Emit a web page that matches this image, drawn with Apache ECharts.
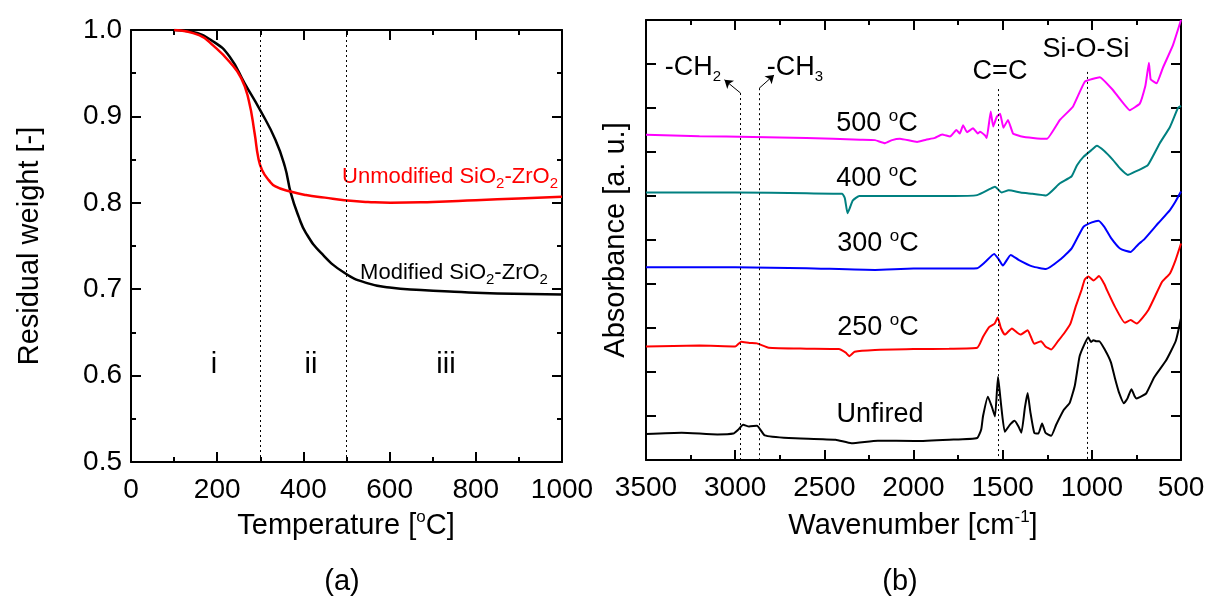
<!DOCTYPE html>
<html>
<head>
<meta charset="utf-8">
<script src="https://cdn.jsdelivr.net/npm/echarts@6/dist/echarts.min.js"></script>
<style>
	html, body { margin: 0; padding: 0; background: #fff; }
	#chart { width: 1214px; height: 605px; }
</style>
</head>
<body>
<div id="chart"></div>
<script>
// (a) TGA
var tempMod = [100, 140, 193, 229, 264, 300, 335, 357, 371, 389, 406, 441, 495, 548, 600, 673, 750, 850, 1000];
var weightMod = [1.0, 0.998, 0.986, 0.969, 0.938, 0.907, 0.873, 0.842, 0.811, 0.784, 0.765, 0.742, 0.719, 0.707, 0.702, 0.699, 0.697, 0.695, 0.694];
var tempUnmod = [100, 158, 193, 229, 256, 273, 287, 295, 304, 320, 335, 370, 406, 450, 495, 550, 602, 700, 800, 900, 1000];
var weightUnmod = [1.0, 0.994, 0.981, 0.963, 0.944, 0.919, 0.880, 0.853, 0.838, 0.826, 0.819, 0.813, 0.809, 0.806, 0.803, 0.801, 0.800, 0.801, 0.803, 0.805, 0.807];
var regionLines = [300, 500];

// (b) FTIR
var unfiredWn = [3500, 3300, 3100, 3010, 2985, 2955, 2922, 2878, 2834, 2700, 2437, 2348, 2200, 1995, 1800, 1643, 1620, 1610, 1583, 1560, 1543, 1526, 1510, 1488, 1460, 1433, 1410, 1395, 1375, 1360, 1345, 1323, 1300, 1279, 1260, 1228, 1200, 1157, 1124, 1095, 1069, 1045, 1020, 1005, 991, 975, 959, 926, 893, 870, 849, 820, 800, 778, 760, 749, 720, 694, 650, 584, 529, 500];
var unfiredAbs = [0.59, 0.62, 0.58, 0.60, 0.68, 0.80, 0.76, 0.78, 0.56, 0.50, 0.46, 0.38, 0.44, 0.43, 0.46, 0.50, 0.70, 1.00, 1.44, 1.20, 0.99, 1.89, 1.30, 0.64, 0.80, 0.89, 0.75, 0.62, 1.20, 1.52, 1.10, 0.62, 0.60, 0.83, 0.62, 0.55, 0.80, 1.14, 1.30, 1.70, 2.35, 2.60, 2.79, 2.68, 2.72, 2.70, 2.70, 2.50, 2.22, 1.85, 1.55, 1.29, 1.40, 1.61, 1.45, 1.40, 1.45, 1.52, 1.88, 2.26, 2.71, 3.22];
var c250Wn = [3500, 3200, 3000, 2966, 2920, 2878, 2812, 2600, 2420, 2380, 2360, 2330, 2216, 2000, 1800, 1643, 1610, 1576, 1545, 1528, 1510, 1488, 1448, 1420, 1400, 1360, 1323, 1285, 1260, 1228, 1190, 1157, 1120, 1091, 1058, 1040, 1020, 990, 960, 930, 915, 870, 815, 782, 749, 683, 606, 562, 530, 500];
var c250Abs = [2.58, 2.60, 2.58, 2.69, 2.66, 2.65, 2.55, 2.53, 2.52, 2.44, 2.36, 2.46, 2.50, 2.52, 2.53, 2.55, 2.80, 3.02, 3.10, 3.24, 3.00, 2.85, 2.99, 2.90, 2.85, 2.95, 2.64, 2.70, 2.58, 2.51, 2.70, 2.87, 3.10, 3.48, 3.86, 4.10, 4.17, 4.08, 4.18, 4.00, 3.86, 3.48, 3.12, 3.18, 3.10, 3.41, 4.05, 4.24, 4.55, 4.92];
var c300Wn = [3500, 3000, 2600, 2216, 2000, 1800, 1643, 1598, 1548, 1520, 1499, 1455, 1411, 1334, 1257, 1179, 1113, 1047, 1000, 963, 930, 893, 840, 782, 740, 705, 628, 562, 530, 500];
var c300Abs = [4.38, 4.38, 4.36, 4.32, 4.35, 4.35, 4.36, 4.50, 4.68, 4.55, 4.42, 4.66, 4.55, 4.40, 4.34, 4.55, 4.81, 5.30, 5.40, 5.44, 5.30, 5.05, 4.80, 4.73, 4.90, 5.02, 5.38, 5.68, 5.88, 6.10];
var c400Wn = [3500, 3000, 2600, 2400, 2385, 2370, 2355, 2340, 2304, 2000, 1800, 1643, 1571, 1543, 1505, 1466, 1400, 1334, 1274, 1257, 1179, 1113, 1083, 1047, 1000, 972, 930, 882, 840, 798, 760, 731, 686, 619, 562, 517, 500];
var c400Abs = [6.08, 6.08, 6.06, 6.05, 5.95, 5.61, 5.75, 5.90, 6.00, 6.00, 6.00, 6.02, 6.16, 6.21, 6.08, 6.13, 6.08, 6.05, 6.02, 6.01, 6.29, 6.45, 6.70, 6.89, 7.05, 7.14, 7.02, 6.82, 6.62, 6.48, 6.55, 6.60, 6.70, 7.20, 7.57, 8.00, 8.05];
var c500Wn = [3500, 3200, 2900, 2600, 2300, 2216, 2160, 2120, 2076, 1980, 1930, 1880, 1840, 1795, 1760, 1740, 1722, 1700, 1666, 1640, 1627, 1600, 1589, 1567, 1553, 1533, 1514, 1496, 1470, 1442, 1400, 1330, 1251, 1179, 1106, 1039, 955, 882, 787, 731, 700, 692, 680, 670, 636, 601, 545, 500];
var c500Abs = [7.39, 7.36, 7.34, 7.32, 7.28, 7.27, 7.20, 7.27, 7.30, 7.23, 7.28, 7.32, 7.40, 7.35, 7.50, 7.42, 7.61, 7.45, 7.54, 7.42, 7.46, 7.38, 7.32, 7.92, 7.58, 7.80, 7.87, 7.55, 7.73, 7.42, 7.36, 7.32, 7.30, 7.73, 8.03, 8.60, 8.70, 8.41, 7.95, 8.10, 8.50, 8.71, 9.03, 8.65, 8.56, 8.92, 9.43, 10.0];
// band guides: [wavenumber, top of dotted line]
var bandLines = [[2970, 8.34], [2865, 8.45], [1525, 8.43], [1025, 8.82]];
// arrows from the CH guides to their labels: [from wn, from abs, to wn, to abs]
var bandArrows = [[2970, 8.34, 3060, 8.64], [2865, 8.45, 2782, 8.75]];

var FONT = 'Liberation Sans, Arial, sans-serif';

function pairs(xs, ys) {
	var out = [];
	for (var i = 0; i < xs.length; i++) out.push([xs[i], ys[i]]);
	return out;
}

function boxAxis(opt) {
	return {
		gridIndex: opt.grid,
		type: 'value',
		position: opt.position,
		min: opt.min,
		max: opt.max,
		interval: opt.interval,
		inverse: !!opt.inverse,
		axisLine: { show: true, onZero: false, lineStyle: { color: '#000', width: 2 } },
		axisTick: { show: true, inside: true, length: 10, lineStyle: { color: '#000', width: 2 } },
		minorTick: { show: !!opt.minor, splitNumber: 2, length: 5, lineStyle: { color: '#000', width: 2 } },
		splitLine: { show: false },
		axisLabel: {
			show: !!opt.labels,
			fontSize: 28,
			fontFamily: FONT,
			color: '#000',
			margin: opt.margin || 8,
			formatter: opt.formatter || function(v) { return String(v); }
		}
	};
}

var chart = echarts.init(document.getElementById('chart'));

var sub = { fontSize: 15, fontFamily: FONT, verticalAlign: 'bottom', lineHeight: 15 };
var sup = { fontSize: 17, fontFamily: FONT, verticalAlign: 'top', lineHeight: 17 };

function txt(x, y, text, size, color, rot) {
	return {
		type: 'text',
		x: x,
		y: y,
		rotation: rot || 0,
		style: {
			text: text,
			fontSize: size,
			fontFamily: FONT,
			fill: color || '#000',
			align: 'center',
			verticalAlign: 'middle',
			rich: {
				n: { fontSize: size, fontFamily: FONT, lineHeight: size + 6, fill: color || '#000' },
				sub: sub,
				sup: sup
			}
		}
	};
}

var option = {
	animation: false,
	backgroundColor: '#fff',
	grid: [
		{ left: 131, top: 30, width: 431, height: 432 },
		{ left: 646, top: 20, width: 535, height: 440 }
	],
	xAxis: [
		boxAxis({ grid: 0, position: 'bottom', min: 0, max: 1000, interval: 200, minor: true, labels: true, margin: 14 }),
		boxAxis({ grid: 0, position: 'top', min: 0, max: 1000, interval: 200, minor: true }),
		boxAxis({ grid: 1, position: 'bottom', min: 500, max: 3500, interval: 500, inverse: true, minor: true, labels: true, margin: 14 }),
		boxAxis({ grid: 1, position: 'top', min: 500, max: 3500, interval: 500, inverse: true, minor: true })
	],
	yAxis: [
		boxAxis({ grid: 0, position: 'left', min: 0.5, max: 1.0, interval: 0.1, minor: true, labels: true, margin: 9,
			formatter: function(v) { return v.toFixed(1); } }),
		boxAxis({ grid: 0, position: 'right', min: 0.5, max: 1.0, interval: 0.1, minor: true }),
		boxAxis({ grid: 1, position: 'left', min: 0, max: 10, interval: 1 }),
		boxAxis({ grid: 1, position: 'right', min: 0, max: 10, interval: 1 })
	],
	series: [
		{
			name: 'Modified', type: 'line', xAxisIndex: 0, yAxisIndex: 0,
			data: pairs(tempMod, weightMod), smooth: true, showSymbol: false,
			lineStyle: { color: '#000', width: 2.5 }, z: 3,
			markLine: {
				silent: true, symbol: 'none', label: { show: false },
				lineStyle: { color: '#000', width: 1, type: [2, 3] },
				data: regionLines.map(function(t) { return { xAxis: t }; })
			}
		},
		{
			name: 'Unmodified', type: 'line', xAxisIndex: 0, yAxisIndex: 0,
			data: pairs(tempUnmod, weightUnmod), smooth: true, showSymbol: false,
			lineStyle: { color: '#ff0000', width: 2.5 }, z: 4
		},
		{
			name: 'Unfired', type: 'line', xAxisIndex: 2, yAxisIndex: 2,
			data: pairs(unfiredWn, unfiredAbs), smooth: 0.15, showSymbol: false,
			lineStyle: { color: '#000', width: 2 },
			markLine: {
				silent: true, symbol: 'none', label: { show: false },
				lineStyle: { color: '#000', width: 1, type: [2, 3] },
				data: bandLines.map(function(b) { return [{ coord: [b[0], b[1]] }, { coord: [b[0], 0] }]; })
					.concat(bandArrows.map(function(a) {
						return [
							{ coord: [a[0], a[1]], symbol: 'none', lineStyle: { type: 'solid', width: 1 } },
							{ coord: [a[2], a[3]], symbol: 'arrow', symbolSize: 8 }
						];
					}))
			}
		},
		{
			name: '250', type: 'line', xAxisIndex: 2, yAxisIndex: 2,
			data: pairs(c250Wn, c250Abs), smooth: 0.15, showSymbol: false,
			lineStyle: { color: '#ff0000', width: 2 }
		},
		{
			name: '300', type: 'line', xAxisIndex: 2, yAxisIndex: 2,
			data: pairs(c300Wn, c300Abs), smooth: 0.15, showSymbol: false,
			lineStyle: { color: '#0000ff', width: 2 }
		},
		{
			name: '400', type: 'line', xAxisIndex: 2, yAxisIndex: 2,
			data: pairs(c400Wn, c400Abs), smooth: 0.15, showSymbol: false,
			lineStyle: { color: '#008080', width: 2 }
		},
		{
			name: '500', type: 'line', xAxisIndex: 2, yAxisIndex: 2,
			data: pairs(c500Wn, c500Abs), smooth: 0.1, showSymbol: false,
			lineStyle: { color: '#ff00ff', width: 2 }
		}
	],
	graphic: [
		txt(30, 246, 'Residual weight [-]', 29, '#000', Math.PI / 2),
		txt(346, 526, '{n|Temperature [}{sup|o}{n|C]}', 29),
		txt(342, 582, '(a)', 29),
		txt(450, 177, '{n|Unmodified SiO}{sub|2}{n|-ZrO}{sub|2}', 22, '#ff0000'),
		txt(454, 273, '{n|Modified SiO}{sub|2}{n|-ZrO}{sub|2}', 22, '#000'),
		txt(214, 365, 'i', 29),
		txt(311, 365, 'ii', 29),
		txt(446, 365, 'iii', 29),

		txt(616, 240, 'Absorbance [a. u.]', 29, '#000', Math.PI / 2),
		txt(913, 526, '{n|Wavenumber [cm}{sup|-1}{n|]}', 29),
		txt(900, 582, '(b)', 29),
		txt(693, 68, '{n|-CH}{sub|2}', 27),
		txt(795, 68, '{n|-CH}{sub|3}', 27),
		txt(1000, 72, 'C=C', 27),
		txt(1086, 50, 'Si-O-Si', 27),
		txt(877, 124, '{n|500 }{sup|o}{n|C}', 27),
		txt(877, 179, '{n|400 }{sup|o}{n|C}', 27),
		txt(878, 244, '{n|300 }{sup|o}{n|C}', 27),
		txt(878, 328, '{n|250 }{sup|o}{n|C}', 27),
		txt(880, 415, 'Unfired', 27)
	]
};

chart.setOption(option);
</script>
</body>
</html>
